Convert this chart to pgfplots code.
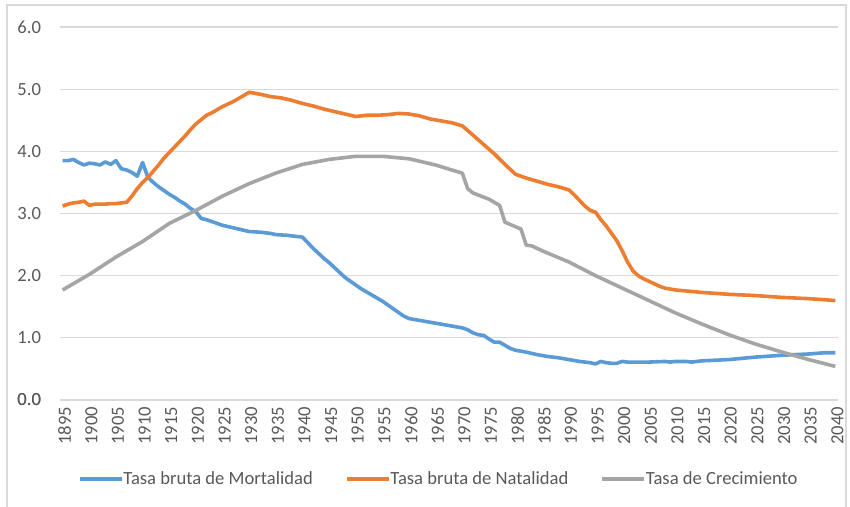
\documentclass[border=0pt]{standalone}
\usepackage{pgfplots}
\pgfplotsset{compat=1.18}
\usepackage{fontspec}
\setmainfont{Carlito}
\definecolor{cblue}{HTML}{5B9BD5}
\definecolor{corange}{HTML}{ED7D31}
\definecolor{cgray}{HTML}{A5A5A5}
\definecolor{ctext}{HTML}{595959}
\definecolor{cgrid}{HTML}{D9D9D9}
\begin{document}
\begin{tikzpicture}
\path[use as bounding box] (0,0) rectangle (425pt,253.5pt);
\draw[cgrid, line width=0.6pt] (3.5pt,-2pt) -- (3.5pt,251pt) -- (423pt,251pt) -- (423pt,-2pt);
\begin{axis}[
  at={(30pt,53.5pt)}, anchor=south west,
  scale only axis, width=389pt, height=186.5pt,
  xmin=1894.5, xmax=2040.5, ymin=0, ymax=6,
  axis line style={draw=none},
  axis x line*=bottom,
  xtick={1895,1900,...,2040},
  ytick={0,1,...,6},
  major tick length=0pt,
  ymajorgrids, grid style={cgrid, line width=0.6pt},
  extra y ticks={0}, extra y tick style={grid style={cgrid,line width=0.6pt}},
  font=\fontsize{9.3}{11}\selectfont,
  tick label style={text=ctext},
  /pgf/number format/assume math mode=true,
  x tick label style={rotate=90, anchor=east, /pgf/number format/1000 sep={}, yshift=-1pt},
  y tick label style={/pgf/number format/.cd, fixed, fixed zerofill, precision=1, /tikz/.cd, xshift=-6pt},
  legend columns=3,
  legend style={at={(0.488,-0.212)}, anchor=center, draw=none, fill=none,
    font=\fontsize{9.3}{11}\selectfont, text=ctext,
    /tikz/every even column/.append style={column sep=14pt},
    /tikz/every odd column/.append style={column sep=-2pt}},
  legend image code/.code={\draw[#1, line width=1.8pt] (0pt,0pt) -- (21pt,0pt);},
  every axis plot/.append style={line width=1.8pt, line join=round, no markers},
]
\addplot[cblue] coordinates {
(1895,3.85)(1896,3.85)(1897,3.87)(1898,3.82)(1899,3.78)(1900,3.81)(1901,3.80)(1902,3.78)(1903,3.83)(1904,3.79)
(1905,3.85)(1906,3.72)(1907,3.70)(1908,3.66)(1909,3.60)(1910,3.82)(1911,3.58)(1912,3.50)(1913,3.43)(1914,3.37)
(1915,3.31)(1916,3.26)(1917,3.20)(1918,3.15)(1919,3.08)(1920,3.03)(1921,2.92)(1922,2.90)(1923,2.87)(1924,2.84)
(1925,2.81)(1926,2.79)(1927,2.77)(1928,2.75)(1929,2.73)(1930,2.71)(1932,2.70)(1934,2.68)(1935,2.66)(1937,2.65)
(1939,2.63)(1940,2.62)(1941,2.53)(1942,2.44)(1943,2.36)(1944,2.28)(1945,2.21)(1946,2.13)(1947,2.05)(1948,1.97)
(1949,1.91)(1950,1.85)(1951,1.79)(1952,1.74)(1953,1.69)(1954,1.64)(1955,1.59)(1956,1.53)(1957,1.47)(1958,1.41)
(1959,1.35)(1960,1.31)(1962,1.28)(1964,1.25)(1966,1.22)(1968,1.19)(1970,1.16)(1971,1.13)(1972,1.08)(1973,1.05)
(1974,1.04)(1975,0.98)(1976,0.93)(1977,0.93)(1978,0.88)(1979,0.83)(1980,0.80)(1982,0.77)(1984,0.73)(1986,0.70)
(1988,0.68)(1990,0.65)(1992,0.62)(1994,0.60)(1995,0.58)(1996,0.62)(1997,0.60)(1998,0.59)(1999,0.59)(2000,0.62)
(2001,0.61)(2005,0.61)(2008,0.62)(2009,0.61)(2010,0.62)(2012,0.62)(2013,0.61)(2015,0.63)(2020,0.65)(2025,0.69)
(2030,0.72)(2035,0.74)(2038,0.76)(2040,0.76)
};
\addlegendentry{Tasa bruta de Mortalidad}
\addplot[corange] coordinates {
(1895,3.12)(1896,3.15)(1897,3.17)(1898,3.18)(1899,3.20)(1900,3.13)(1901,3.15)(1902,3.15)(1903,3.15)(1904,3.16)
(1905,3.16)(1906,3.17)(1907,3.18)(1908,3.28)(1909,3.40)(1910,3.50)(1911,3.58)(1912,3.68)(1913,3.78)(1914,3.89)
(1915,3.98)(1916,4.07)(1917,4.16)(1918,4.25)(1919,4.35)(1920,4.44)(1921,4.51)(1922,4.58)(1923,4.62)(1924,4.67)
(1925,4.72)(1926,4.76)(1927,4.80)(1928,4.85)(1929,4.90)(1930,4.95)(1932,4.92)(1934,4.88)(1936,4.86)(1938,4.82)
(1940,4.77)(1942,4.73)(1944,4.68)(1946,4.64)(1948,4.60)(1950,4.56)(1952,4.58)(1954,4.58)(1956,4.59)(1958,4.61)
(1960,4.60)(1962,4.57)(1964,4.52)(1966,4.49)(1968,4.46)(1970,4.41)(1972,4.26)(1974,4.11)(1976,3.96)(1978,3.79)
(1980,3.63)(1982,3.57)(1984,3.52)(1986,3.47)(1988,3.43)(1990,3.38)(1991,3.30)(1992,3.21)(1993,3.12)(1994,3.05)
(1995,3.02)(1996,2.90)(1997,2.80)(1998,2.68)(1999,2.56)(2000,2.40)(2001,2.22)(2002,2.08)(2003,2.00)(2004,1.95)
(2005,1.91)(2006,1.87)(2007,1.83)(2008,1.80)(2010,1.77)(2015,1.73)(2020,1.70)(2025,1.68)(2030,1.65)(2035,1.63)
(2040,1.60)
};
\addlegendentry{Tasa bruta de Natalidad}
\addplot[cgray] coordinates {
(1895,1.77)(1900,2.02)(1905,2.30)(1910,2.55)(1915,2.84)(1920,3.05)(1925,3.28)(1930,3.48)(1935,3.65)(1940,3.79)
(1945,3.87)(1950,3.92)(1955,3.92)(1960,3.88)(1965,3.78)(1968,3.70)(1970,3.65)(1971,3.40)(1972,3.33)(1975,3.23)
(1977,3.13)(1978,2.86)(1981,2.75)(1982,2.49)(1983,2.48)(1985,2.40)(1990,2.22)(1995,2.00)(2000,1.80)(2005,1.60)
(2010,1.40)(2015,1.22)(2020,1.05)(2025,0.90)(2030,0.77)(2035,0.65)(2040,0.54)
};
\addlegendentry{Tasa de Crecimiento}
\end{axis}
\end{tikzpicture}
\end{document}
